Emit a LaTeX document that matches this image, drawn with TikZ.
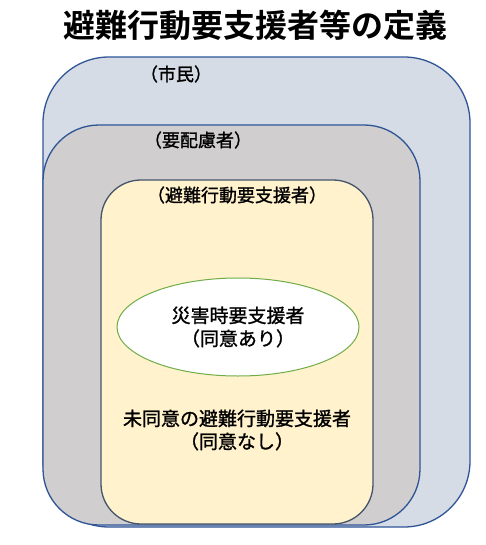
\documentclass[tikz,border=0pt]{standalone}
\usepackage{fontspec}
\newfontfamily\cjk[FakeBold=1.2]{Noto Sans CJK JP}
\newfontfamily\cjkb{Noto Sans CJK JP Bold}
\usetikzlibrary{shapes.geometric}
\definecolor{outerfill}{HTML}{D6DCE5}
\definecolor{midfill}{HTML}{D0CECE}
\definecolor{innerfill}{HTML}{FFF2CC}
\definecolor{bluestroke}{HTML}{2F5597}
\definecolor{innerstroke}{HTML}{44546A}
\definecolor{greenstroke}{HTML}{70AD47}
\tikzset{
  region/.style={draw, line width=1.3pt, minimum width=#1, inner sep=0pt},
  lbl/.style={font=\cjk\fontsize{18}{22}\selectfont, inner sep=0pt, anchor=center},
  body/.style={font=\cjk\fontsize{19}{23}\selectfont, align=center, inner sep=0pt}
}
\begin{document}
\begin{tikzpicture}[x=1pt,y=-1pt]
\useasboundingbox (0,0) rectangle (485,545);
\node (title) at (255,25) {\cjkb\fontsize{32}{36}\selectfont 避難行動要支援者等の定義};
\node[region=427pt, minimum height=470pt, rounded corners=66pt, fill=outerfill, draw=bluestroke] (outer) at (256.5,292) {};
\node[region=377pt, minimum height=400pt, rounded corners=56pt, fill=midfill, draw=bluestroke] (middle) at (231.5,325) {};
\node[region=272pt, minimum height=344pt, rounded corners=40pt, fill=innerfill, draw=innerstroke] (inner) at (237,352) {};
\node[ellipse, draw=greenstroke, line width=1pt, fill=white, minimum width=242pt, minimum height=98pt, inner sep=0pt] (agree) at (238,327) {};
\node[lbl] (lblouter) at (176,74) {（市民）};
\node[lbl] (lblmiddle) at (198,140) {（要配慮者）};
\node[lbl] (lblinner) at (237,195) {（避難行動要支援者）};
\node[body] (agreetext) at (agree.center) {災害時要支援者\\（同意あり）};
\node[body] (noagree) at (237,430) {未同意の避難行動要支援者\\（同意なし）};
\end{tikzpicture}
\end{document}
